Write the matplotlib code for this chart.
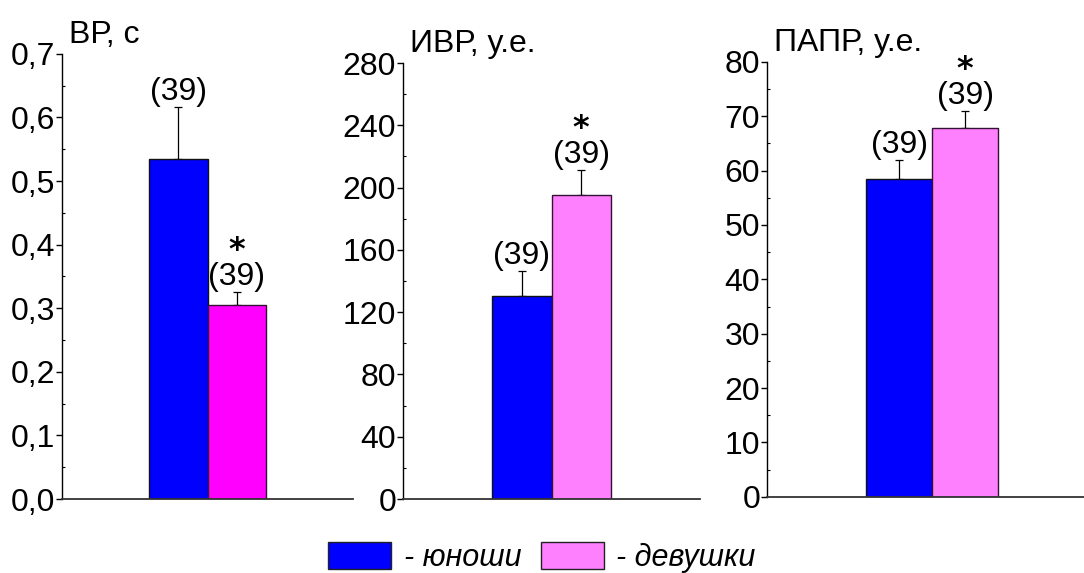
import matplotlib
matplotlib.use("Agg")
import matplotlib.pyplot as plt
from matplotlib.patches import Patch
from matplotlib.ticker import MultipleLocator, FuncFormatter

plt.rcParams['font.family'] = ['Liberation Sans', 'DejaVu Sans']

# Data: mean and upper error for boys (юноши) and girls (девушки)
titles = ["ВР, с", "ИВР, у.е.", "ПАПР, у.е."]
boys_mean = [0.535, 130.5, 58.4]
boys_err = [0.082, 16.0, 3.6]
girls_mean = [0.305, 195.5, 67.8]
girls_err = [0.021, 16.0, 3.2]
n_labels = ["(39)", "(39)", "(39)"]
girls_signif = [True, True, True]
y_max = [0.7, 280, 80]
y_step = [0.1, 40, 10]
girls_colors = ["#FF00FF", "#FF80FF", "#FF80FF"]
boys_color = "#0000FF"
legend_labels = ["- юноши", "- девушки"]

fig = plt.figure(figsize=(10.84, 5.73), dpi=100)

axes_rects = [
    [0.0572, 0.129, 0.2685, 0.777],
    [0.3718, 0.129, 0.2740, 0.761],
    [0.7076, 0.133, 0.2924, 0.759],
]
xlims = [(-1, 1), (-1, 1), (-1, 0.92)]

bar_w = 0.4
for i, ax_rect in enumerate(axes_rects):
    ax = fig.add_axes(ax_rect)
    xb, xg = -bar_w / 2, bar_w / 2
    ax.bar(xb, boys_mean[i], width=bar_w, color=boys_color, edgecolor="#111111",
           linewidth=1.0, zorder=2)
    ax.bar(xg, girls_mean[i], width=bar_w, color=girls_colors[i], edgecolor="#331133",
           linewidth=1.0, zorder=2)
    ax.errorbar([xb, xg], [boys_mean[i], girls_mean[i]],
                yerr=[[0, 0], [boys_err[i], girls_err[i]]],
                fmt="none", ecolor="black", elinewidth=0.9, capsize=3, capthick=0.9,
                zorder=1)
    # sample size labels above error bars, with a significance star where needed
    for x, m, e, sig in [(xb, boys_mean[i], boys_err[i], False),
                         (xg, girls_mean[i], girls_err[i], girls_signif[i])]:
        label = ("$\\mathbf{*}$\n" + n_labels[i]) if sig else n_labels[i]
        ax.annotate(label, (x, m + e), xytext=(0, 0), textcoords="offset points",
                    ha="center", va="bottom", multialignment="center",
                    linespacing=0.92, fontsize=23)

    ax.set_xlim(*xlims[i])
    ax.set_ylim(0, y_max[i])
    ax.yaxis.set_major_locator(MultipleLocator(y_step[i]))
    ax.yaxis.set_minor_locator(MultipleLocator(y_step[i] / 2))
    if i == 0:
        ax.yaxis.set_major_formatter(FuncFormatter(lambda v, p: f"{v:.1f}".replace(".", ",")))
    else:
        ax.yaxis.set_major_formatter(FuncFormatter(lambda v, p: f"{v:.0f}"))
    ax.tick_params(axis="y", which="major", direction="out", length=4, width=1,
                   labelsize=23, pad=1)
    ax.tick_params(axis="y", which="minor", direction="in", length=2, width=0.8)
    ax.set_xticks([])
    for s in ["top", "right"]:
        ax.spines[s].set_visible(False)
    ax.spines["left"].set_linewidth(1.0)
    ax.spines["bottom"].set_linewidth(1.3)
    ax.spines["bottom"].set_color("#333333")
    ax.patch.set_alpha(0)
    ax.annotate(titles[i], (0, 1), xycoords="axes fraction", xytext=(5, 8),
                textcoords="offset points", ha="left", va="baseline", fontsize=23)

handles = [Patch(facecolor=boys_color, edgecolor="#222222", linewidth=1.0),
           Patch(facecolor="#FF80FF", edgecolor="#222222", linewidth=1.0)]
fig.legend(handles, legend_labels, loc="lower center", bbox_to_anchor=(0.5, -0.048),
           ncol=2, frameon=False, prop={"size": 22, "style": "italic"},
           handlelength=2.06, handleheight=1.0, handletextpad=0.4, columnspacing=0.65)

fig.savefig("out.png", dpi=100)
